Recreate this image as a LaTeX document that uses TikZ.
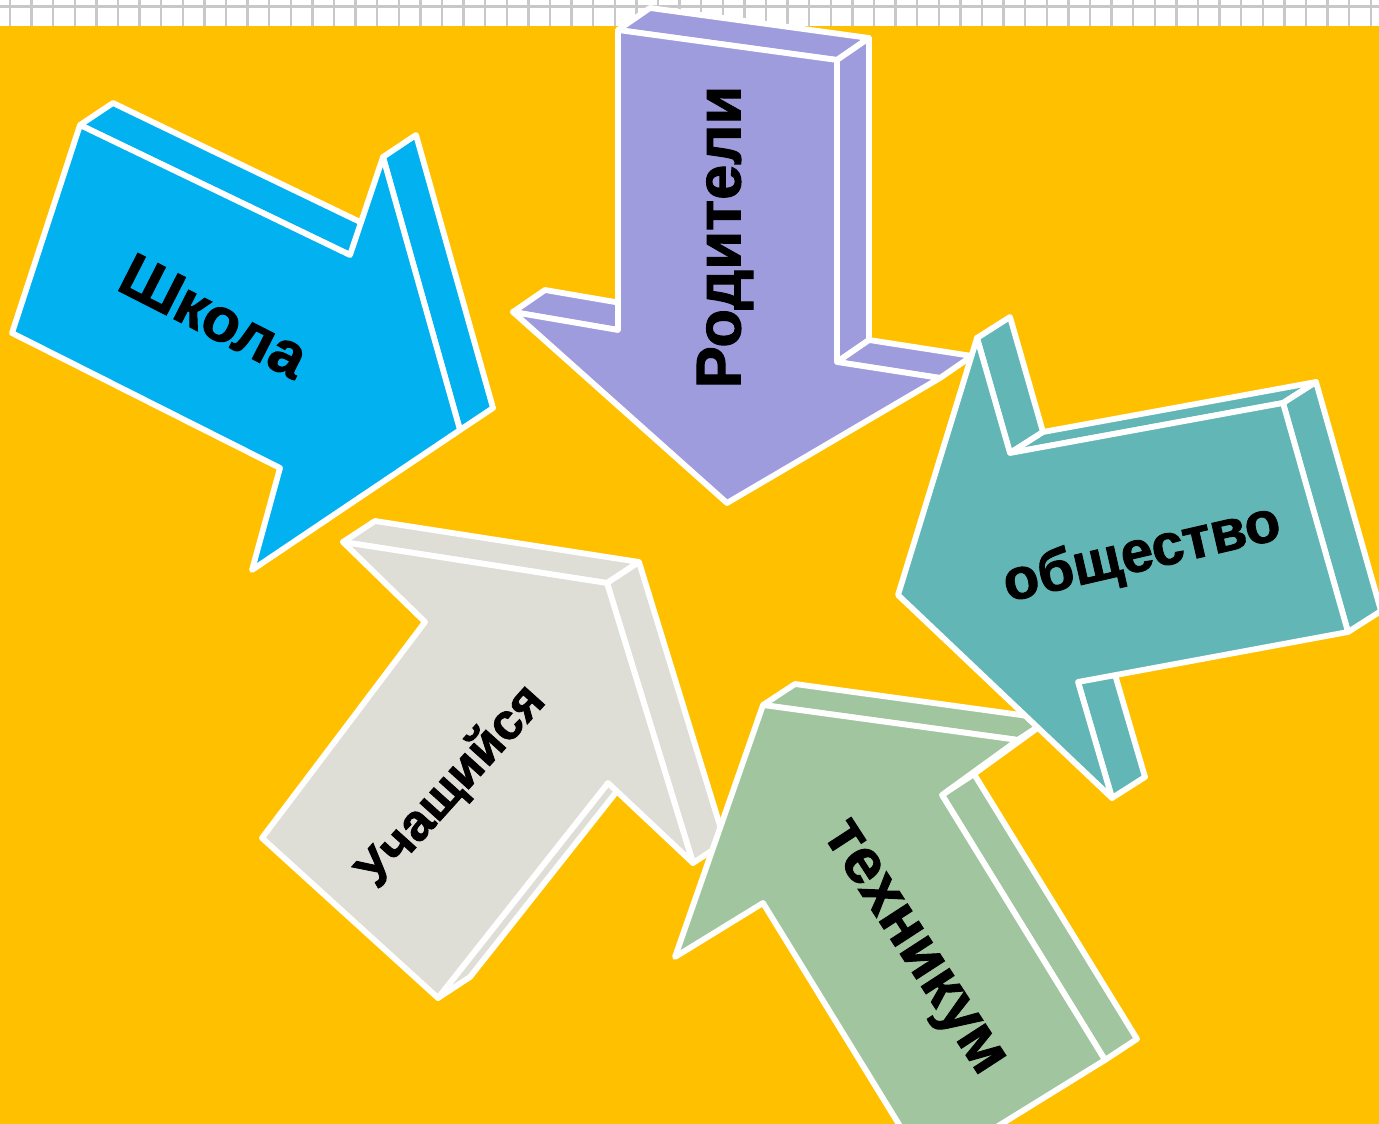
\documentclass[tikz,border=0pt]{standalone}
\usepackage{fontspec}
\setmainfont{Liberation Sans}[BoldFeatures={FakeBold=1.6}]
\definecolor{bgorange}{HTML}{FFC000}
\definecolor{schblue}{HTML}{02B2F0}
\definecolor{parpurple}{HTML}{9E9CDC}
\definecolor{socteal}{HTML}{62B6B6}
\definecolor{stugray}{HTML}{DEDED6}
\definecolor{tecgreen}{HTML}{A1C69F}
\definecolor{gridgray}{HTML}{C8C8C8}

\begin{document}
\begin{tikzpicture}[
  x=0.02cm, y=-0.02cm,
  face/.style={fill=#1, draw=white, line width=3.3pt, line join=round},
  word/.style={font=\fontsize{#1}{#1}\selectfont\bfseries, text=black, inner sep=0pt},
]
  \useasboundingbox (0,0) rectangle (1379,1124);
  \clip (0,0) rectangle (1379,1124);

  % Background with grid strip
  \fill[white] (0,0) rectangle (1379,26);
  \foreach \gx in {0,...,63}
    \draw[gridgray, line width=1.3pt] ({10+21.6*\gx},0) -- ++(0,26);
  \draw[gridgray, line width=1.3pt] (0,6.5) -- (1379,6.5);
  \fill[bgorange] (0,26) rectangle (1379,1124);

  % Shkola arrow
  \draw[face=schblue] (80,125) -- (113,103) -- (383,233) -- (350,255) -- cycle;
  \draw[face=schblue] (383,157) -- (416,135) -- (493,408) -- (460,430) -- cycle;
  \draw[face=schblue] (80,125) -- (350,255) -- (383,157) -- (460,430) -- (252,570)
    -- (280,468) -- (12,333) -- cycle;

  % Roditeli arrow
  \draw[face=parpurple] (618,30) -- (650,8) -- (869,38) -- (837,60) -- cycle;
  \draw[face=parpurple] (837,60) -- (869,38) -- (869,340) -- (837,362) -- cycle;
  \draw[face=parpurple] (837,362) -- (869,340) -- (972,356) -- (940,378) -- cycle;
  \draw[face=parpurple] (513,312) -- (545,290) -- (650,308) -- (618,330) -- cycle;
  \draw[face=parpurple] (618,30) -- (837,60) -- (837,362) -- (940,378) -- (727,503)
    -- (513,312) -- (618,330) -- cycle;

  % Uchashchiysya arrow
  \draw[face=stugray] (343,542) -- (375,521) -- (639,562) -- (607,583) -- cycle;
  \draw[face=stugray] (607,583) -- (639,562) -- (725,842) -- (693,863) -- cycle;
  \draw[face=stugray] (608,783) -- (640,762) -- (470,977) -- (438,998) -- cycle;
  \draw[face=stugray] (343,542) -- (607,583) -- (693,863) -- (608,783) -- (438,998)
    -- (262,838) -- (425,622) -- cycle;

  % Tekhnikum arrow
  \draw[face=tecgreen] (763,705) -- (795,684) -- (1050,719) -- (1018,740) -- cycle;
  \draw[face=tecgreen] (1018,740) -- (1050,719) -- (974,774) -- (942,795) -- cycle;
  \draw[face=tecgreen] (942,795) -- (974,774) -- (1137,1039) -- (1105,1060) -- cycle;
  \draw[face=tecgreen] (763,705) -- (1018,740) -- (942,795) -- (1105,1060) -- (927,1170)
    -- (763,903) -- (675,957) -- cycle;

  % Obshchestvo arrow
  \draw[face=socteal] (977,338) -- (1010,317) -- (1043,432) -- (1010,453) -- cycle;
  \draw[face=socteal] (1010,453) -- (1043,432) -- (1316,382) -- (1283,403) -- cycle;
  \draw[face=socteal] (1283,403) -- (1316,382) -- (1381,611) -- (1348,632) -- cycle;
  \draw[face=socteal] (1078,682) -- (1111,661) -- (1145,777) -- (1112,798) -- cycle;
  \draw[face=socteal] (898,595) -- (977,338) -- (1010,453) -- (1283,403) -- (1348,632)
    -- (1078,682) -- (1112,798) -- cycle;

  % Labels
  \node[word=35, rotate=-27] (school) at (214,316) {Школа};
  \node[word=36, rotate=90] (parents) at (725,237) {Родители};
  \node[word=33, rotate=13] (society) at (1142,555) {общество};
  \node[word=29, rotate=48] (student) at (452,787) {Учащийся};
  \node[word=36, rotate=-57] (college) at (910,950) {техникум};
\end{tikzpicture}
\end{document}
